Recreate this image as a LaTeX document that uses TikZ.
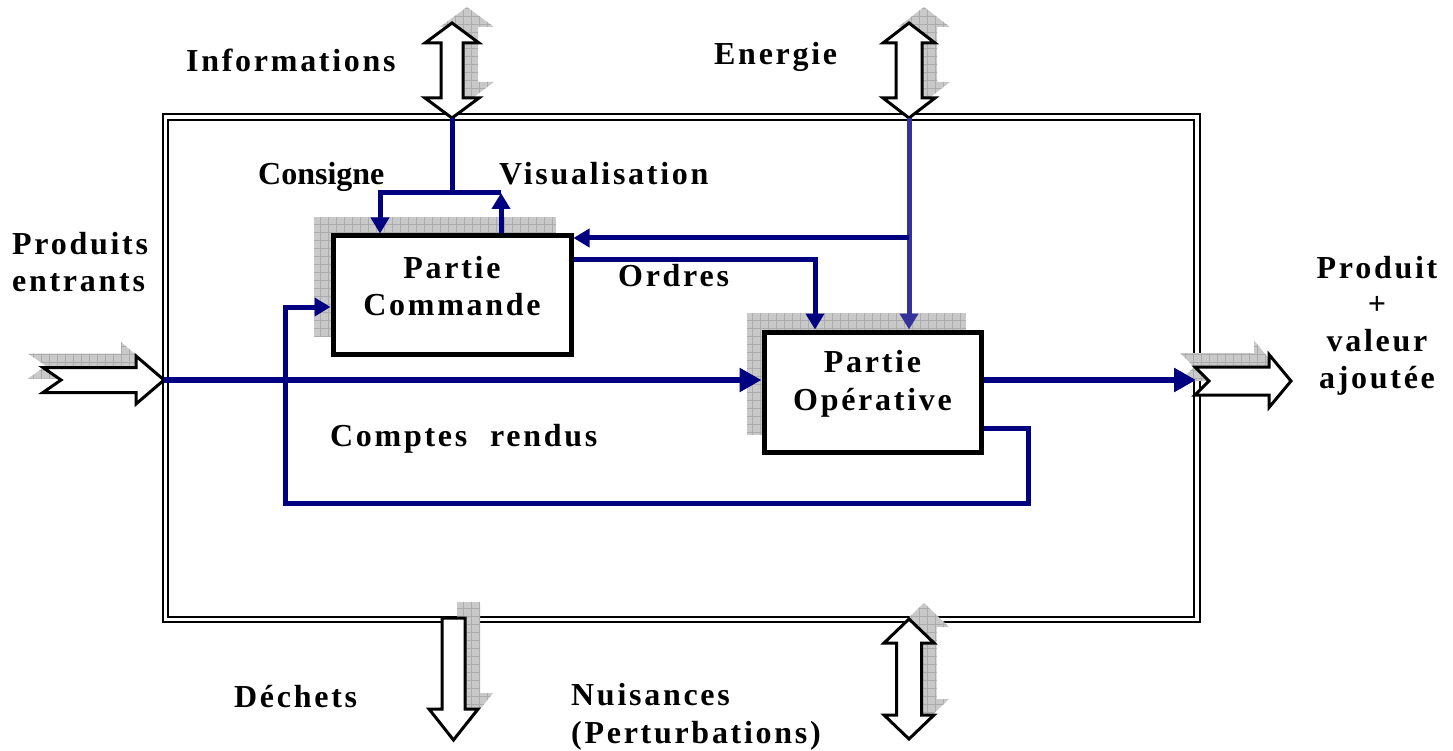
\documentclass[tikz,border=0pt]{standalone}
\usepackage{fontspec}
\setmainfont{Liberation Serif}[LetterSpace=8.5]
\newfontfamily\plainserif{Liberation Serif}
\usetikzlibrary{arrows.meta}
\definecolor{navy}{RGB}{0,0,128}
\definecolor{energyblue}{RGB}{51,51,153}

% double vertical hollow arrow: style, cx, ytop, ybot, head length, head half-width, shaft half-width
\newcommand\vdbl[7]{\path[#1] (#2,#3) -- (#2+#6,#3+#5) -- (#2+#7,#3+#5) -- (#2+#7,#4-#5)
  -- (#2+#6,#4-#5) -- (#2,#4) -- (#2-#6,#4-#5) -- (#2-#7,#4-#5) -- (#2-#7,#3+#5)
  -- (#2-#6,#3+#5) -- cycle;}
% horizontal hollow arrow with notched tail: style, xtail, xnotch, xhead, xtip, cy, head half, shaft half
\newcommand\hnotch[8]{\path[#1] (#2,#6-#8) -- (#4,#6-#8) -- (#4,#6-#7) -- (#5,#6)
  -- (#4,#6+#7) -- (#4,#6+#8) -- (#2,#6+#8) -- (#3,#6) -- cycle;}
% downward hollow arrow: style, cx, ytop, yhead, ytip, head half, shaft half
\newcommand\vdown[7]{\path[#1] (#2-#7,#3) -- (#2+#7,#3) -- (#2+#7,#4) -- (#2+#6,#4)
  -- (#2,#5) -- (#2-#6,#4) -- (#2-#7,#4) -- cycle;}

\tikzset{
  dropshade/.style={fill=gray!42, path picture={\draw[gray!65, line width=0.6pt, step=8pt]
      (path picture bounding box.south west) grid (path picture bounding box.north east);}},
  hollow/.style={draw=black, line width=3pt, fill=white, line join=miter},
  frameline/.style={draw=black, line width=2pt},
  block/.style={draw=black, line width=5pt, fill=white, inner sep=0pt},
  lbl/.style={font=\bfseries\fontsize{32}{37.5}\selectfont, inner sep=0pt},
  flow/.style={draw=navy, line width=5pt},
  tipS/.style={-{Triangle[length=16pt,width=18pt]}},
  mainflow/.style={draw=navy, line width=6.5pt, -{Triangle[length=22pt,width=23pt]}},
}

\begin{document}
\begin{tikzpicture}[x=1pt,y=-1pt]
\useasboundingbox (0,0) rectangle (1453,751);

% system boundary (double frame)
\draw[frameline] (163,114) rectangle (1200,622);
\draw[frameline] (168,120) rectangle (1194,617);

% shadows of the flow arrows
\vdbl{dropshade,xshift=15pt,yshift=16pt}{452}{23}{118}{20}{27}{11}
\vdbl{dropshade,xshift=15pt,yshift=16pt}{909}{23}{118}{20}{26}{13}
\vdbl{dropshade,xshift=15pt,yshift=16pt}{909}{619}{739}{24}{25}{12.5}
\vdown{dropshade,xshift=15pt,yshift=16pt}{453.5}{618}{709}{740}{24.5}{11.5}
\hnotch{dropshade,xshift=-15pt,yshift=14pt}{43}{61}{136}{164}{380}{24}{12.5}
\hnotch{dropshade,xshift=-15pt,yshift=14pt}{1195}{1209}{1269}{1291}{381}{26.5}{14}

% flow arrows
\vdbl{hollow}{452}{23}{118}{20}{27}{11}
\vdbl{hollow}{909}{23}{118}{20}{26}{13}
\vdbl{hollow}{909}{619}{739}{24}{25}{12.5}
\vdown{hollow}{453.5}{618}{709}{740}{24.5}{11.5}
\hnotch{hollow}{43}{61}{136}{164}{380}{24}{12.5}
\hnotch{hollow}{1195}{1209}{1269}{1291}{381}{26.5}{14}

% block shadows
\path[dropshade] (314,217) rectangle (556,337);
\path[dropshade] (747,313) rectangle (966,435);

% blocks
\node[block, minimum width=238pt, minimum height=118pt] (pc) at (452,295) {};
\node[block, minimum width=217pt, minimum height=120pt] (po) at (872.5,392) {};
\node[lbl, align=center] (pctext) at (452,286) {Partie\\Commande};
\node[lbl, align=center] (potext) at (872.5,384) {Partie\\Opérative};

% connection points
\coordinate (infoTip) at (452,118);
\coordinate (infoJ) at (452,193);
\coordinate (consJ) at (380,193);
\coordinate (visuJ) at (501,193);
\coordinate (enTip) at (909,118);
\coordinate (enJ) at (909,238);
\coordinate (ordJ) at (815,260);
\coordinate (crA) at (1028,428);
\coordinate (crB) at (1028,503);
\coordinate (crC) at (285,503);
\coordinate (crD) at (285,307);
\coordinate (inTip) at (164,380);
\coordinate (outTail) at (1196,380);

% information exchange
\draw[flow] (infoTip) -- (infoJ);
\draw[flow, tipS] (infoJ) -- (consJ) -- (consJ |- pc.north);
\draw[flow] (infoJ) -- (visuJ);
\draw[flow, tipS] (visuJ |- pc.north) -- (visuJ);

% energy supply
\draw[draw=energyblue, line width=5pt, tipS] (enTip) -- (enTip |- po.north);
\draw[flow, tipS] (enJ) -- (enJ -| pc.east);

% orders and reports
\draw[flow, tipS] (ordJ -| pc.east) -- (ordJ) -- (ordJ |- po.north);
\draw[flow, tipS] (crA -| po.east) -- (crA) -- (crB) -- (crC) -- (crD) -- (crD -| pc.west);

% product flow
\draw[mainflow] (inTip) -- (inTip -| po.west);
\draw[mainflow] (inTip -| po.east) -- (outTail);

% labels
\node[lbl, anchor=base west] (linfo) at (186,72) {Informations};
\node[lbl, anchor=base west] (lener) at (714,65) {Energie};
\node[lbl, anchor=base west, font=\plainserif\bfseries\fontsize{32}{37.5}\selectfont] (lcons) at (258,185) {Consigne};
\node[lbl, anchor=base west] (lvisu) at (499,185) {Visualisation};
\node[lbl, anchor=base west] (lord) at (618,287) {Ordres};
\node[lbl, anchor=base west] (lcr) at (330,446) {Comptes\hspace{12pt} rendus};
\node[lbl, anchor=base west] (ldech) at (234,707) {Déchets};
\node[lbl, anchor=west, align=left] (lin) at (12,262) {Produits\\entrants};
\node[lbl, anchor=west, align=left] (lnuis) at (571,717) {Nuisances\\(Perturbations)};
\node[lbl, align=center, font=\bfseries\fontsize{32}{36.7}\selectfont] (lout) at (1377,325.5)
  {Produit\\+\\valeur\\ajoutée};
\end{tikzpicture}
\end{document}
